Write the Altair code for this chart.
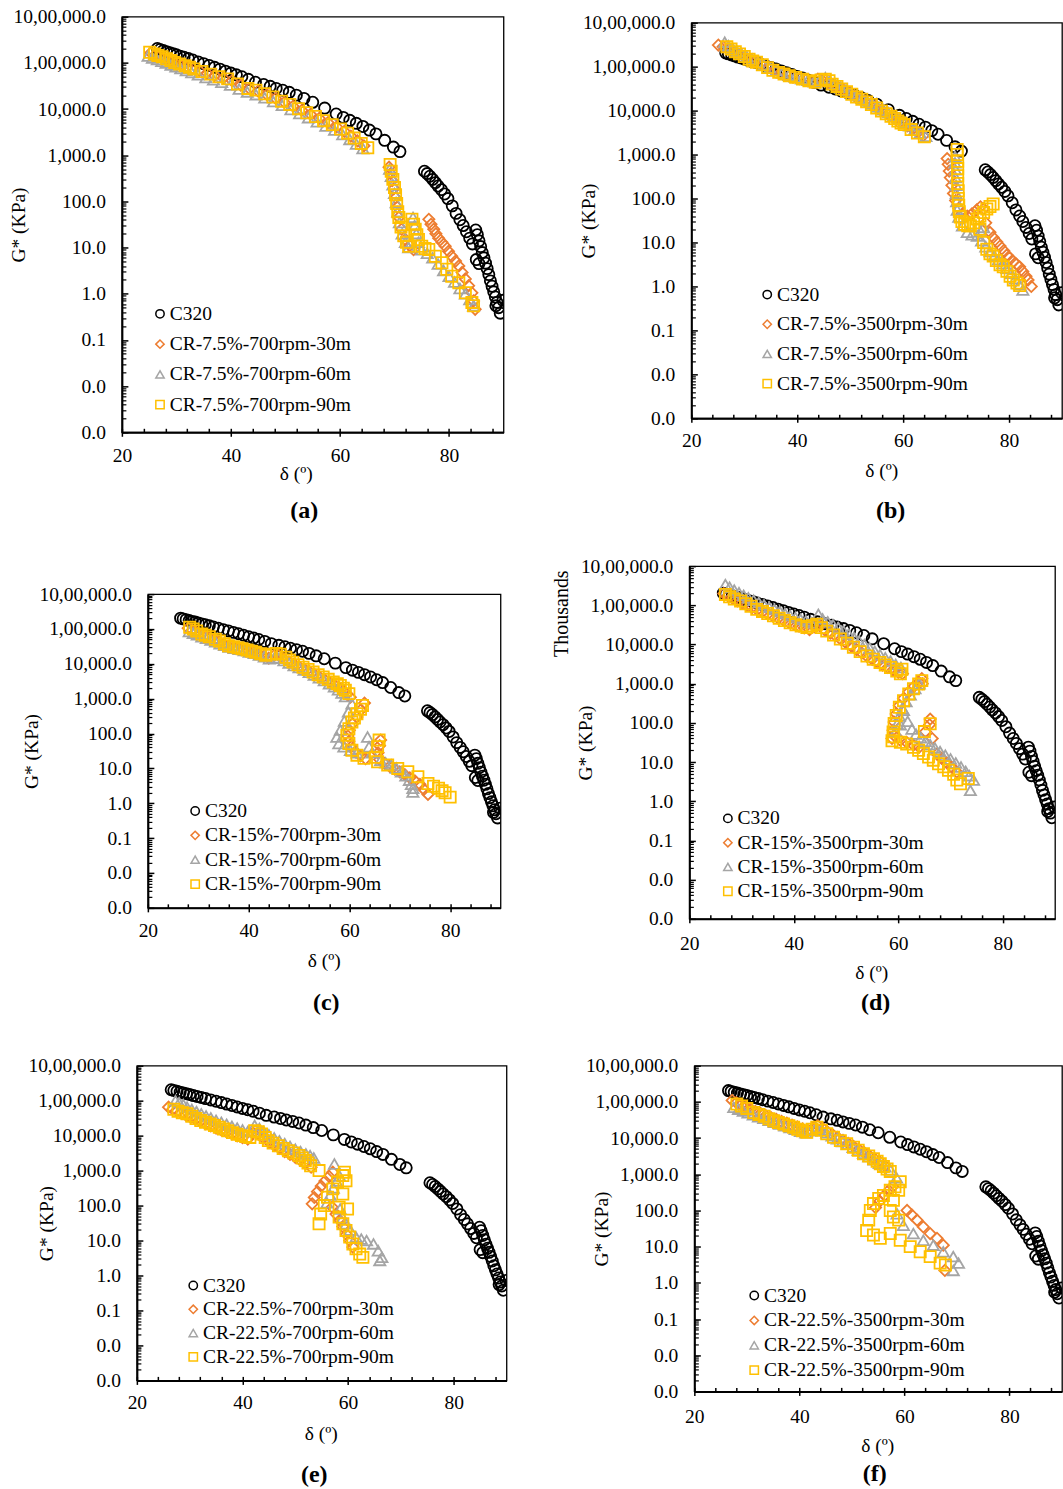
import altair as alt
import pandas as pd

FONT = "Liberation Serif"

# ---------------- axis ticks ----------------
Y_TICKS = [0.001, 0.01, 0.1, 1, 10, 100, 1000, 10000, 100000, 1000000]
Y_TICK_LABELS = ["0.0", "0.0", "0.1", "1.0", "10.0", "100.0", "1,000.0",
                 "10,000.0", "1,00,000.0", "10,00,000.0"]
Y_MINOR = [round(m * 10.0 ** e, 6) for e in range(-3, 6) for m in range(2, 10)]
X_TICKS = [20, 40, 60, 80]
X_MINOR = [20, 24, 28, 32, 36, 40, 44, 48, 52, 56, 60, 64, 68, 72, 76, 80, 84, 88]

SHAPES = ["circle", "diamond", "triangle-up", "square"]
COLORS = ["#000000", "#ED7D31", "#A5A5A5", "#FFC000"]

# ---------------- data: [delta (deg), G* (kPa)] ----------------
C320 = [[26.5, 205000], [27.0, 195000], [27.6, 185000], [28.2, 175000], [28.8, 165000], [29.4, 158000],
        [30.0, 150000], [30.7, 140000], [31.4, 132000], [32.2, 124000], [33.0, 115000], [34.0, 105000],
        [35.0, 96000], [36.0, 88000], [37.0, 80000], [38.0, 73000], [39.0, 66000], [40.0, 60000],
        [41.0, 55000], [42.0, 50000], [43.2, 44000], [44.5, 38000], [46.0, 34000], [47.2, 31000],
        [48.3, 28000], [49.5, 25500], [50.7, 23000], [52.0, 20000], [53.4, 17000], [55.0, 14000],
        [57.2, 10500], [59.3, 7800], [60.6, 6600], [61.8, 5700], [63.0, 4900], [64.2, 4200],
        [65.4, 3500], [66.6, 2900], [68.2, 2100], [69.8, 1500], [71.0, 1200],
        [75.5, 450], [76.0, 400], [76.5, 350], [77.0, 300], [77.5, 255], [78.0, 215], [78.6, 180],
        [79.2, 145], [79.8, 115], [80.6, 80], [81.3, 55], [82.0, 40], [82.6, 30], [83.2, 22],
        [83.8, 16], [84.3, 12], [84.9, 24], [85.2, 19], [85.5, 14], [85.8, 10.5], [86.1, 7.8],
        [86.4, 6.0], [86.7, 4.6], [87.0, 3.5], [87.3, 2.6], [87.6, 1.9], [87.9, 1.45], [88.2, 1.1],
        [88.5, 0.85], [88.8, 0.65], [89.1, 0.5], [89.4, 0.38], [88.6, 0.55], [89.9, 0.72],
        [85.0, 5.5], [85.5, 4.5]]

A30 = [[25.3, 165000], [26.2, 152000], [27.0, 140000], [27.8, 128000], [28.6, 118000], [29.4, 108000],
       [30.3, 99000], [31.2, 90000], [32.0, 83000], [33.0, 76000], [34.2, 68000], [35.6, 60000],
       [37.0, 53000], [38.6, 47000], [40.2, 41000], [41.8, 33000], [43.4, 27500], [45.0, 24500],
       [46.6, 20500], [48.2, 17000], [49.8, 14000], [51.4, 11500], [53.0, 9400], [54.6, 7700],
       [56.2, 6300], [57.8, 5100], [59.4, 4100], [60.8, 3300], [62.0, 2600], [63.2, 2050], [64.4, 1600],
       [69.0, 550], [69.3, 400], [69.6, 280], [69.9, 190], [70.2, 120], [70.5, 75], [70.8, 45],
       [71.3, 25], [72.0, 15], [72.8, 11], [73.5, 9],
       [76.3, 41], [76.7, 32], [77.2, 25], [77.6, 20], [78.1, 16], [78.7, 13], [79.3, 10.7],
       [79.9, 8.3], [80.5, 6.5], [81.2, 5.1], [81.8, 4.0], [82.4, 2.9], [83.0, 2.1], [83.6, 1.5],
       [84.2, 1.05], [84.5, 0.7], [84.8, 0.46]]
A60 = [[24.8, 140000], [25.6, 128000], [26.5, 118000], [27.3, 108000], [28.1, 99000], [29.0, 90000],
       [29.9, 82000], [30.8, 75000], [31.8, 68000], [32.8, 62000], [34.0, 55000], [35.4, 48000],
       [36.8, 43000], [38.3, 38000], [39.9, 33000], [41.5, 27000], [43.0, 23500], [44.6, 20500],
       [46.2, 17500], [47.8, 14500], [49.4, 12000], [51.0, 9800], [52.6, 8000], [54.2, 6500],
       [55.8, 5300], [57.4, 4300], [59.0, 3500], [60.5, 2800], [61.8, 2200], [63.0, 1750], [64.2, 1400],
       [69.1, 500], [69.4, 350], [69.7, 230], [70.0, 150], [70.3, 95], [70.6, 60], [70.9, 35],
       [71.4, 20], [72.0, 13], [72.6, 10], [73.4, 45], [73.7, 30], [74.0, 20], [74.4, 13], [75.0, 9],
       [76.0, 7.5], [77.0, 6.0], [78.0, 4.4], [79.0, 3.2], [80.0, 2.4], [81.0, 1.8], [82.0, 1.3],
       [83.0, 1.0], [83.8, 0.75], [84.5, 0.55]]
A90 = [[25.1, 170000], [26.0, 155000], [26.6, 145000], [27.4, 135000], [28.2, 123000], [29.0, 112000],
       [29.7, 102000], [30.6, 95000], [31.6, 87000], [32.4, 80000], [33.2, 74000], [34.7, 65000],
       [36.3, 57000], [37.8, 50000], [39.4, 45000], [41.2, 35000], [43.1, 28000], [44.6, 25700],
       [46.2, 21400], [47.7, 18200], [49.3, 14800], [50.8, 12600], [52.4, 10200], [53.9, 8300],
       [55.5, 6900], [57.0, 5600], [58.6, 4600], [60.1, 3700], [61.4, 3000], [62.6, 2350],
       [63.9, 1800], [65.1, 1450],
       [69.2, 630], [69.4, 450], [69.7, 300], [70.0, 200], [70.2, 140], [70.4, 90], [70.6, 60],
       [70.8, 45], [71.2, 28], [71.7, 18], [72.2, 13], [72.6, 10.7], [73.2, 41], [73.5, 32],
       [73.8, 25], [74.1, 19], [74.4, 15], [75.0, 10.7], [75.6, 9.5], [76.3, 9.1], [77.5, 6.5],
       [78.7, 4.7], [79.6, 3.4], [80.5, 2.4], [81.8, 1.74], [83.0, 1.05], [84.2, 0.65], [84.5, 0.55]]

B30 = [[25.1, 310000], [26.0, 285000], [27.0, 250000], [28.0, 215000], [29.0, 190000], [30.0, 165000],
       [31.0, 145000], [32.0, 128000], [33.2, 112000], [34.4, 96000], [35.6, 82000], [36.8, 72000],
       [38.0, 64000], [39.2, 58000], [40.4, 53000], [41.6, 49000], [42.8, 46000], [43.9, 52000],
       [44.8, 48000], [45.8, 43000], [46.8, 38000], [47.8, 33500], [48.8, 29000], [49.8, 25500],
       [50.8, 22000], [51.8, 19000], [52.8, 16500], [53.8, 14300], [54.8, 12300], [55.8, 10300],
       [56.8, 8800], [57.8, 7500], [58.8, 6300], [59.8, 5300], [60.8, 4500], [61.8, 3800],
       [62.8, 3200], [63.8, 2700],
       [68.3, 810], [68.5, 600], [68.7, 420], [68.9, 300], [69.2, 200], [69.5, 130], [69.9, 90],
       [70.5, 60], [71.2, 45], [72.1, 40], [73.0, 45], [73.9, 55], [74.6, 65], [75.2, 58],
       [75.6, 28], [76.4, 17], [77.0, 13], [77.7, 10.3], [78.3, 8.3], [79.0, 6.5], [79.6, 5.2],
       [80.1, 4.5], [80.8, 3.7], [81.4, 3.2], [82.0, 2.8], [82.6, 2.2], [83.2, 1.7], [83.6, 1.4],
       [84.2, 1.0]]
B60 = [[26.3, 360000], [27.0, 300000], [27.8, 260000], [28.6, 225000], [29.5, 195000], [30.5, 168000],
       [31.5, 148000], [32.6, 128000], [33.7, 110000], [34.8, 95000], [36.0, 82000], [37.2, 72000],
       [38.4, 64000], [39.6, 58000], [40.8, 53000], [42.0, 49000], [43.2, 45000], [44.3, 50000],
       [45.3, 56000], [46.2, 47000], [47.2, 40000], [48.2, 34000], [49.2, 29500], [50.2, 25500],
       [51.2, 22000], [52.2, 19000], [53.2, 16500], [54.2, 14300], [55.2, 12300], [56.2, 10500],
       [57.2, 9000], [58.2, 7600], [59.2, 6400], [60.2, 5400], [61.2, 4500], [62.2, 3700],
       [63.2, 3100], [64.3, 2600],
       [69.8, 900], [69.8, 650], [69.9, 450], [69.9, 300], [70.0, 200], [70.0, 130], [70.1, 85],
       [70.2, 55], [70.5, 38], [71.2, 24], [72.1, 17], [73.0, 15], [74.0, 14], [74.6, 18], [75.2, 22],
       [74.8, 11], [75.6, 8], [76.4, 6.2], [77.2, 5], [78.0, 4.1], [78.8, 3.3], [79.6, 2.6],
       [80.4, 2.0], [81.2, 1.5], [82.0, 1.1], [82.6, 0.83]]
B90 = [[26.7, 282000], [27.5, 251000], [28.3, 219000], [29.1, 195000], [30.0, 170000], [30.9, 148000],
       [31.6, 135000], [32.3, 126000], [33.4, 110000], [34.4, 95000], [35.4, 83000], [36.5, 74000],
       [37.5, 68000], [38.5, 62000], [39.7, 57000], [41.0, 52000], [42.2, 48000], [43.4, 44000],
       [44.5, 50000], [45.3, 52000], [46.0, 48000], [46.6, 40000], [47.5, 35500], [48.4, 31000],
       [49.3, 27000], [50.3, 23500], [51.2, 20500], [52.2, 18200], [53.1, 15800], [54.0, 13800],
       [55.0, 11500], [55.9, 9800], [56.8, 8500], [57.7, 7400], [58.4, 6600], [59.0, 5800],
       [59.6, 5200], [60.2, 4800], [61.5, 3700], [62.7, 3100], [64.0, 2550],
       [70.2, 1300], [70.2, 1000], [70.3, 700], [70.3, 480], [70.3, 330], [70.3, 220], [70.4, 150],
       [70.4, 100], [70.5, 70], [70.6, 50], [70.8, 38], [71.1, 30], [71.6, 26], [72.2, 24],
       [72.7, 24], [73.3, 28], [74.0, 34], [74.5, 40], [75.2, 48], [75.8, 58], [76.4, 66], [77.0, 75],
       [74.5, 20], [75.2, 10], [75.8, 7], [76.4, 5.5], [77.0, 4.9], [77.6, 3.9], [78.3, 3.1],
       [78.9, 2.8], [79.6, 2.2], [80.2, 1.7], [80.8, 1.4], [81.5, 1.2], [82.0, 1.05]]

C30 = [[28.0, 105000], [28.8, 92000], [29.6, 82000], [30.5, 70000], [31.3, 63000], [32.2, 57000],
       [33.2, 49000], [34.1, 43000], [35.0, 37000], [36.0, 32000], [37.0, 29500], [38.0, 27500],
       [39.0, 25500], [40.0, 23500], [41.0, 21500], [42.0, 19000], [43.0, 16500], [44.0, 14500],
       [45.0, 17000], [46.0, 17500], [47.0, 14000], [48.0, 11500], [49.0, 9800], [50.0, 8400],
       [51.0, 7200], [52.0, 6100], [53.0, 5100], [54.0, 4300], [55.0, 3600], [56.0, 3000],
       [57.0, 2500], [58.0, 2050], [58.8, 1700], [59.5, 1350], [60.2, 1100],
       [63.0, 750], [62.3, 480], [61.5, 300], [60.6, 190], [60.0, 125], [59.7, 85], [59.9, 60],
       [60.4, 42], [61.2, 30], [62.2, 23], [63.2, 19], [66.2, 65], [66.0, 45], [65.7, 28], [66.0, 18],
       [67.0, 14], [68.0, 11.5], [69.0, 9.6], [70.0, 8], [71.0, 6.6], [72.0, 5.4], [73.0, 4.4],
       [74.0, 3.5], [74.8, 2.5], [75.6, 1.8]]
C60 = [[28.2, 85000], [29.0, 76000], [29.8, 68000], [30.7, 60000], [31.6, 54000], [32.5, 48000],
       [33.4, 43000], [34.3, 38000], [35.2, 34000], [36.1, 30500], [37.1, 28000], [38.1, 26000],
       [39.1, 24000], [40.1, 22000], [41.1, 20000], [42.1, 18000], [43.1, 16000], [44.1, 14000],
       [45.1, 15000], [46.0, 14500], [47.0, 12500], [48.0, 10500], [49.0, 9000], [50.0, 7800],
       [51.0, 6700], [52.0, 5700], [53.0, 4800], [54.0, 4000], [55.0, 3300], [56.0, 2700],
       [57.0, 2200], [57.8, 1800], [58.5, 1450], [59.2, 1150],
       [60.5, 720], [59.8, 420], [59.0, 230], [58.2, 126], [57.5, 80], [57.9, 52], [58.9, 42],
       [60.2, 33], [61.5, 28], [63.6, 80], [63.9, 42], [64.5, 28], [66.2, 17], [67.2, 14.5],
       [68.3, 12.6], [69.3, 10.3], [70.3, 8], [71.2, 6.2], [71.9, 4.6], [72.3, 3.5], [72.6, 2.7],
       [72.6, 2.1]]
C90 = [[28.3, 112000], [29.0, 100000], [29.7, 88000], [30.7, 72000], [31.4, 66000], [32.2, 60000],
       [33.4, 51000], [34.2, 45000], [35.2, 38000], [36.0, 33000], [37.0, 31000], [37.9, 29000],
       [38.7, 27000], [39.7, 25000], [40.6, 23000], [41.4, 21500], [42.4, 19500], [43.4, 17500],
       [44.5, 19000], [45.5, 20000], [46.3, 19000], [47.4, 15500], [48.1, 13000], [48.8, 11200],
       [49.8, 9400], [50.8, 8000], [51.8, 6900], [52.8, 5800], [53.8, 4900], [54.8, 4200],
       [55.8, 3600], [56.8, 3000], [57.6, 2700], [58.2, 2400], [58.8, 2000], [59.2, 1750], [59.9, 1400],
       [62.6, 640], [62.2, 500], [61.5, 370], [61.0, 280], [60.5, 215], [59.9, 138], [59.5, 90],
       [59.9, 52], [60.5, 33], [61.5, 24], [62.9, 19.5], [65.9, 65], [65.6, 42], [65.2, 21],
       [65.6, 15.5], [67.6, 12.6], [69.6, 10], [71.6, 8], [73.6, 5.8], [75.6, 3.7], [76.7, 3.1],
       [77.7, 2.7], [78.4, 2.3], [79.0, 2.0], [80.0, 1.5]]

D30 = [[26.6, 200000], [27.4, 175000], [28.3, 150000], [29.2, 130000], [30.1, 115000], [31.0, 100000],
       [32.0, 88000], [33.0, 77000], [34.0, 68000], [35.0, 60000], [36.0, 53000], [37.0, 47000],
       [38.0, 42000], [39.0, 37000], [40.0, 33000], [41.0, 29500], [42.0, 26500], [43.0, 24000],
       [44.0, 28000], [45.0, 30000], [46.0, 23000], [47.0, 19500], [48.0, 16500], [49.0, 13500],
       [50.0, 11000], [51.0, 9000], [52.0, 7400], [53.0, 6100], [54.0, 5000], [55.0, 4200],
       [56.0, 3500], [57.0, 3000], [58.0, 2600], [59.0, 2250], [60.0, 1950], [60.8, 1800],
       [58.8, 40], [59.0, 65], [59.2, 105], [59.6, 170], [60.2, 280], [61.0, 420], [62.0, 620],
       [63.0, 850], [63.9, 1100], [64.5, 1350], [64.6, 1000],
       [59.2, 48], [60.4, 36], [61.6, 32], [62.9, 27], [64.0, 24], [65.2, 60], [66.1, 125], [66.0, 90],
       [66.5, 40], [67.4, 16], [68.3, 12.5], [69.3, 9.5], [70.2, 7.5], [71.2, 5.6]]
D60 = [[26.9, 340000], [27.7, 290000], [28.6, 245000], [29.5, 210000], [30.4, 180000], [31.3, 156000],
       [32.3, 135000], [33.3, 118000], [34.3, 103000], [35.3, 90000], [36.3, 79000], [37.3, 70000],
       [38.3, 62000], [39.3, 55000], [40.3, 49000], [41.3, 44000], [42.3, 40000], [43.3, 36000],
       [44.7, 59000], [45.5, 45000], [46.5, 38000], [47.5, 32000], [48.5, 27000], [49.5, 22500],
       [50.5, 18500], [51.5, 15000], [52.5, 12300], [53.5, 10000], [54.5, 8200], [55.5, 6700],
       [56.5, 5500], [57.5, 4600], [58.5, 3800], [59.5, 3100], [60.5, 2600],
       [59.5, 60], [59.8, 95], [60.2, 150], [60.8, 230], [61.5, 350], [62.3, 520], [63.2, 750],
       [64.0, 1000],
       [60.4, 90], [61.0, 210], [61.8, 110], [62.6, 70], [63.4, 52], [64.3, 42], [65.2, 34],
       [66.1, 28], [67.0, 23], [68.0, 18.5], [69.0, 15], [70.0, 12], [71.0, 9.5], [72.0, 7.5],
       [72.9, 5.8], [73.6, 4.5], [74.4, 3.5], [73.8, 1.9]]
D90 = [[26.9, 190000], [27.7, 165000], [28.6, 145000], [29.8, 129000], [30.8, 110000], [31.8, 95000],
       [32.9, 79000], [34.0, 70000], [35.0, 62000], [36.1, 54000], [37.2, 47000], [38.2, 41000],
       [39.3, 36000], [40.4, 32000], [41.4, 29500], [42.5, 27000], [43.5, 30000], [44.4, 33000],
       [45.3, 27000], [46.3, 22000], [47.6, 17500], [48.9, 13800], [50.2, 10800], [51.4, 8500],
       [52.7, 6600], [54.0, 5100], [55.2, 4200], [56.5, 3500], [57.5, 3000], [58.5, 2600],
       [59.7, 2100], [60.4, 1800], [60.7, 2350],
       [58.8, 35], [59.0, 59], [59.2, 96], [59.6, 155], [60.2, 250], [61.0, 370], [62.0, 550],
       [62.9, 740], [63.9, 980], [64.5, 1200],
       [59.1, 44], [60.4, 32], [61.6, 29], [62.9, 24], [63.9, 20], [64.8, 16.6], [65.8, 13.5],
       [66.7, 11.2], [67.7, 9.1], [68.7, 7.6], [69.6, 6.2], [70.6, 4.9], [71.2, 3.5], [71.9, 2.8],
       [73.4, 3.8], [66.1, 95], [65.0, 60]]

E30 = [[26.0, 65000], [26.8, 57000], [27.6, 50000], [28.4, 44000], [29.3, 38500], [30.2, 33500],
       [31.1, 29000], [32.0, 25500], [33.0, 22000], [34.0, 19000], [35.0, 16500], [36.0, 14500],
       [37.0, 12700], [38.0, 11200], [39.0, 9900], [40.0, 8800], [41.0, 8000], [42.0, 12000],
       [43.0, 11000], [44.0, 8500], [45.0, 6600], [46.0, 5300], [47.0, 4300], [48.0, 3500],
       [49.0, 2900], [50.0, 2400], [51.0, 1950], [52.0, 1600], [53.0, 1250],
       [53.2, 112], [53.6, 170], [54.2, 250], [54.9, 360], [55.6, 500], [56.4, 680], [57.1, 900],
       [57.0, 90], [57.7, 57], [58.4, 38], [59.0, 25], [59.7, 15], [60.3, 10], [60.9, 6.5]]
E60 = [[27.3, 100000], [28.0, 88000], [28.8, 77000], [29.5, 65000], [30.4, 56000], [31.3, 48500],
       [32.2, 42000], [33.1, 36500], [34.0, 32000], [35.0, 27500], [36.0, 24000], [37.0, 21000],
       [38.0, 18500], [39.0, 16500], [40.0, 14500], [41.0, 13000], [42.3, 19500], [43.2, 16000],
       [44.0, 13000], [45.0, 10500], [46.0, 8600], [47.0, 7100], [48.0, 5900], [49.0, 4900],
       [50.0, 4100], [51.0, 3500], [52.0, 3000], [52.8, 2700], [53.5, 2300], [57.4, 1550],
       [56.0, 120], [56.6, 200], [57.2, 320], [57.8, 500], [58.4, 700],
       [58.5, 80], [59.0, 45], [59.6, 30], [60.4, 20], [61.5, 12.6], [62.5, 11], [63.5, 10],
       [64.8, 8], [65.7, 5.1], [66.4, 3.3], [66.0, 2.7]]
E90 = [[27.0, 57000], [27.8, 50000], [28.6, 45000], [29.5, 42000], [30.4, 36000], [31.2, 31000],
       [32.1, 27000], [33.0, 24000], [33.9, 21500], [34.7, 19500], [35.6, 17300], [36.4, 15500],
       [37.2, 13800], [38.1, 12200], [39.0, 11000], [39.8, 10000], [40.6, 9500], [41.4, 8900],
       [42.3, 13800], [43.0, 13000], [43.6, 11200], [44.3, 8800], [44.9, 7200], [45.8, 6100],
       [46.8, 5100], [47.7, 4300], [48.7, 3700], [49.7, 3200], [50.7, 2700], [51.3, 2300],
       [51.9, 1950], [52.4, 1650], [52.9, 1380], [54.5, 1000],
       [54.5, 30], [54.8, 57], [55.5, 100], [56.1, 174], [57.1, 300], [58.0, 470], [59.0, 720],
       [59.3, 900],
       [59.6, 510], [59.0, 215], [58.3, 90], [58.3, 47], [59.9, 80], [59.0, 30], [59.6, 19.5],
       [60.3, 12.6], [60.9, 8], [61.5, 5.8], [62.2, 4.1], [62.8, 3.3]]

F30 = [[27.2, 110000], [28.0, 95000], [28.9, 82000], [29.8, 72000], [30.7, 63000], [31.6, 55000],
       [32.6, 48000], [33.6, 42000], [34.6, 37000], [35.6, 33000], [36.6, 29000], [37.6, 26000],
       [38.6, 23000], [39.6, 20500], [40.6, 18000], [41.6, 16000], [42.6, 19000], [43.5, 22000],
       [44.4, 19000], [45.3, 15000], [46.3, 12500], [47.3, 10400], [48.3, 8600], [49.3, 7100],
       [50.3, 5900], [51.3, 4900], [52.3, 4000], [53.3, 3300], [54.3, 2700], [55.3, 2200], [56.3, 1700],
       [54.5, 120], [55.3, 180], [56.2, 260], [57.0, 360], [57.8, 460],
       [60.5, 100], [61.4, 75], [62.4, 54], [63.6, 35], [64.9, 23], [66.2, 17], [67.4, 11], [67.7, 2.2]]
F60 = [[27.5, 71000], [28.4, 63000], [29.3, 56000], [30.2, 50000], [31.2, 44000], [32.2, 39000],
       [33.2, 35000], [34.2, 31000], [35.2, 27500], [36.2, 24500], [37.2, 22000], [38.2, 19500],
       [39.2, 17500], [40.2, 15500], [41.2, 14000], [42.2, 16000], [43.2, 19000], [44.2, 17000],
       [45.2, 14000], [46.2, 11500], [47.2, 9600], [48.2, 8000], [49.2, 6700], [50.2, 5600],
       [51.2, 4600], [52.2, 3800], [53.2, 3100], [54.2, 2500], [55.2, 2000], [56.3, 1600],
       [57.4, 1300], [58.5, 800],
       [58.6, 81], [59.8, 39], [61.7, 23], [63.6, 15], [65.5, 11], [67.4, 7.2], [69.3, 5.3],
       [70.3, 3.5], [69.3, 2.2]]
F90 = [[28.1, 87000], [29.0, 77000], [30.0, 66000], [31.3, 51000], [32.3, 45000], [33.3, 40000],
       [34.2, 34000], [35.1, 30000], [36.0, 27000], [37.0, 24500], [38.0, 22000], [38.9, 20000],
       [39.7, 17500], [40.6, 16000], [41.4, 14500], [42.4, 17500], [43.3, 20000], [44.2, 16500],
       [45.2, 13200], [46.5, 10500], [47.8, 8500], [49.0, 7000], [50.3, 5600], [51.2, 4600],
       [52.2, 3700], [53.2, 3200], [54.1, 2700], [54.8, 2300], [55.4, 1950], [56.0, 1650],
       [56.7, 1400], [57.3, 1200],
       [52.8, 28], [53.2, 54], [53.5, 100], [54.1, 155], [55.1, 215], [56.0, 260], [57.3, 360],
       [58.2, 450], [59.2, 620], [58.9, 360], [57.9, 190], [57.3, 100], [57.9, 66], [58.9, 54],
       [57.3, 23], [54.1, 21], [55.4, 17], [59.2, 15], [61.1, 10], [63.0, 7.2], [64.9, 5.3],
       [66.8, 3.5], [67.8, 3.1]]

NAMES_A = ["C320", "CR-7.5%-700rpm-30m", "CR-7.5%-700rpm-60m", "CR-7.5%-700rpm-90m"]
NAMES_B = ["C320", "CR-7.5%-3500rpm-30m", "CR-7.5%-3500rpm-60m", "CR-7.5%-3500rpm-90m"]
NAMES_C = ["C320", "CR-15%-700rpm-30m", "CR-15%-700rpm-60m", "CR-15%-700rpm-90m"]
NAMES_D = ["C320", "CR-15%-3500rpm-30m", "CR-15%-3500rpm-60m", "CR-15%-3500rpm-90m"]
NAMES_E = ["C320", "CR-22.5%-700rpm-30m", "CR-22.5%-700rpm-60m", "CR-22.5%-700rpm-90m"]
NAMES_F = ["C320", "CR-22.5%-3500rpm-30m", "CR-22.5%-3500rpm-60m", "CR-22.5%-3500rpm-90m"]

# ---------------- layout (pixels) ----------------
PANELS = {
    "a": dict(tag="(a)", names=NAMES_A, series=[C320, A30, A60, A90], w=382, h=416,
              gtx=-103, dtx=174, dty=41.5, ttx=182, tty=82.5, xlp=14.2,
              lx=28.4, ly=287.7, rp=9.3),
    "b": dict(tag="(b)", names=NAMES_B, series=[C320, B30, B60, B90], w=371, h=396,
              gtx=-103, dtx=190, dty=52, ttx=199, tty=96, xlp=13.2,
              lx=66.2, ly=262.4, rp=8.7),
    "c": dict(tag="(c)", names=NAMES_C, series=[C320, C30, C60, C90], w=353, h=314,
              gtx=-116, dtx=176, dty=53, ttx=178, tty=99, xlp=13.2,
              lx=37.6, ly=207.3, rp=3.4),
    "d": dict(tag="(d)", names=NAMES_D, series=[C320, D30, D60, D90], w=366, h=353,
              gtx=-104, dtx=182, dty=53.5, ttx=186, tty=88, xlp=15.2,
              lx=28.8, ly=242.7, rp=3.3, extra="Thousands", etx=-134, ety=47),
    "e": dict(tag="(e)", names=NAMES_E, series=[C320, E30, E60, E90], w=370, h=315,
              gtx=-90, dtx=184, dty=53, ttx=177, tty=98, xlp=13.2,
              lx=46.7, ly=210.3, rp=2.8),
    "f": dict(tag="(f)", names=NAMES_F, series=[C320, F30, F60, F90], w=368, h=326,
              gtx=-93, dtx=183, dty=54.5, ttx=180, tty=86.5, xlp=16.2,
              lx=50.2, ly=220.3, rp=3.9),
}
OFFSETS = {"a": (7.25, 4.75), "b": (72.6, 10.75),
           "c": (20.25, 58.75), "d": (48.35, 30.75),
           "e": (26.5, 38.75), "f": (76.85, 38.75)}

TICK_FS = 19.5
TEXT_FS = 19.5


def label_expr():
    parts = []
    for t, lab in zip(Y_TICKS[:-1], Y_TICK_LABELS[:-1]):
        parts.append(f"datum.value < {t * 3} ? '{lab}' : ")
    return "".join(parts) + f"'{Y_TICK_LABELS[-1]}'"


LABEL_EXPR = label_expr()


def make_panel(p):
    rows = []
    for name, pts in zip(p["names"], p["series"]):
        for d, g in pts:
            rows.append({"series": name, "delta": d, "G": g})
    df = pd.DataFrame(rows)
    ghost_df = pd.DataFrame({"delta": [50.0], "G": [1.0]})
    w, h = p["w"], p["h"]
    xs = alt.Scale(domain=[20, 90], nice=False, zero=False)
    ys = alt.Scale(type="log", domain=[0.001, 1000000], nice=False)

    def legend():
        return alt.Legend(orient="none", legendX=p["lx"], legendY=p["ly"], title=None,
                          labelFont=FONT, labelFontSize=TEXT_FS, labelColor="black",
                          rowPadding=p["rp"], symbolSize=70, symbolStrokeWidth=1.5,
                          labelOffset=0, padding=0, labelLimit=400)

    pts = alt.Chart(df).mark_point(filled=False, size=125, strokeWidth=1.8, opacity=1,
                                   clip=True).encode(
        x=alt.X("delta:Q", scale=xs, axis=alt.Axis(
            values=X_TICKS, ticks=False, tickSize=0, grid=False, domainColor="black",
            domainWidth=2, labelFont=FONT, labelFontSize=TICK_FS, labelColor="black",
            labelPadding=p["xlp"], labelFlush=False, labelOverlap=False,
            title="δ (º)", titleFont=FONT, titleFontSize=TEXT_FS, titleFontWeight="normal",
            titleColor="black", titleX=p["dtx"], titleY=p["dty"], titleAlign="center",
            titleBaseline="middle")),
        y=alt.Y("G:Q", scale=ys, axis=alt.Axis(
            values=Y_TICKS, labelExpr=LABEL_EXPR, ticks=False, tickSize=0, grid=False,
            domainColor="black", domainWidth=2, labelFont=FONT, labelFontSize=TICK_FS,
            labelColor="black", labelPadding=16.5, labelOverlap=False,
            title="G* (KPa)", titleFont=FONT, titleFontSize=TEXT_FS, titleFontWeight="normal",
            titleColor="black", titleAngle=270, titleX=p["gtx"], titleY=h / 2,
            titleAlign="center", titleBaseline="middle")),
        color=alt.Color("series:N", scale=alt.Scale(domain=p["names"], range=COLORS), legend=legend()),
        shape=alt.Shape("series:N", scale=alt.Scale(domain=p["names"], range=SHAPES), legend=legend()),
    )

    yg_kwargs = dict(orient="left", offset=-6, values=Y_TICKS, tickSize=6, tickColor="black",
                     tickWidth=1.5, domain=False, labels=False, grid=False)
    if p.get("extra"):
        yg_kwargs.update(title=p["extra"], titleFont=FONT, titleFontSize=20,
                         titleFontWeight="normal", titleColor="black", titleAngle=270,
                         titleX=p["etx"], titleY=p["ety"], titleAlign="center",
                         titleBaseline="middle")
    else:
        yg_kwargs.update(title=None)

    g1 = alt.Chart(ghost_df).mark_point(opacity=0).encode(
        x=alt.X("delta:Q", scale=xs, axis=alt.Axis(
            orient="bottom", offset=-4, values=X_MINOR,
            tickSize={"condition": {"test": "datum.value % 20 === 0", "value": 8}, "value": 4},
            tickColor="black", tickWidth=1.5, domain=False, labels=False, grid=False,
            title=p["tag"], titleFont=FONT, titleFontSize=24, titleFontWeight="bold",
            titleColor="black", titleX=p["ttx"], titleY=p["tty"], titleAlign="center",
            titleBaseline="middle")),
        y=alt.Y("G:Q", scale=ys, axis=alt.Axis(**yg_kwargs)),
    )
    g2 = alt.Chart(ghost_df).mark_point(opacity=0).encode(
        x=alt.X("delta:Q", scale=xs, axis=None),
        y=alt.Y("G:Q", scale=ys, axis=alt.Axis(
            orient="left", offset=-4, values=Y_MINOR, tickSize=4, tickColor="black",
            tickWidth=1.2, domain=False, labels=False, grid=False, title=None)),
    )
    return alt.layer(pts, g1, g2).resolve_axis(x="independent", y="independent").properties(
        width=w, height=h, view=alt.ViewBackground(stroke="black", strokeWidth=1.3))


def spacer(w, h):
    return alt.Chart(pd.DataFrame({"v": [0]})).mark_point(opacity=0, size=1, strokeWidth=0).encode(
        x=alt.value(w / 2), y=alt.value(h / 2)
    ).properties(width=w, height=h, view=alt.ViewBackground(strokeOpacity=0, fillOpacity=0))


def indep(c):
    return c.resolve_scale(x="independent", y="independent", color="independent", shape="independent")


def place(key):
    dx, dy = OFFSETS[key]
    col = indep(alt.vconcat(spacer(1, dy), make_panel(PANELS[key]), spacing=0))
    return indep(alt.hconcat(spacer(dx, 1), col, spacing=0))


row1 = indep(alt.hconcat(place("a"), place("b"), spacing=0))
row2 = indep(alt.hconcat(place("c"), place("d"), spacing=0))
row3 = indep(alt.hconcat(place("e"), place("f"), spacing=0))

chart = indep(alt.vconcat(row1, row2, row3, spacing=0)).properties(
    padding=0, background="white"
).configure(font=FONT)

chart.save("out.html", embed_options={"renderer": "svg", "actions": False})
